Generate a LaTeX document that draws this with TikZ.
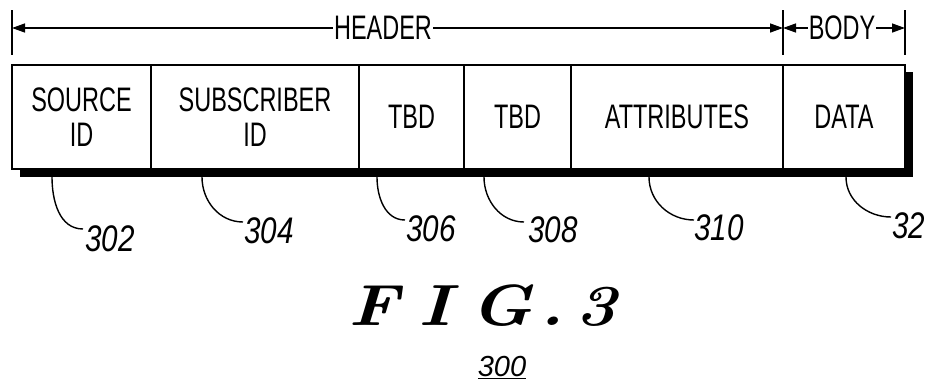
\documentclass[tikz,border=0pt]{standalone}
\usepackage{fontspec}
\usetikzlibrary{arrows.meta}
\newfontfamily\cellfont[FakeStretch=0.69]{Liberation Sans}
\newfontfamily\numfont[FakeStretch=0.8]{Liberation Sans}
\newfontfamily\plainsans{Liberation Sans}
\begin{document}
\begin{tikzpicture}[x=1pt,y=-1pt,
  cell/.style={draw,fill=white,line width=1.8pt,minimum height=104pt,inner sep=0pt,outer sep=0pt,align=center,
    font=\cellfont\fontsize{34}{35}\selectfont},
  lead/.style={line width=1.4pt},
  refnum/.style={font=\numfont\itshape\fontsize{37}{37}\selectfont,inner sep=0pt,anchor=west},
  tickline/.style={line width=1.8pt},
  dimline/.style={line width=1.4pt,-{Triangle[length=13pt,width=9pt]}},
  lab/.style={font=\cellfont\fontsize{34}{35}\selectfont,fill=white,inner sep=1pt}]
\useasboundingbox (0,0) rectangle (928,386);
% shadow
\fill (20,72) rectangle (913,177);
% cells
\node[cell,minimum width=139pt] (c1) at (81.5,117) {SOURCE\\ID};
\node[cell,minimum width=208pt] (c2) at (255,117) {SUBSCRIBER\\ID};
\node[cell,minimum width=105pt] (c3) at (411.5,117) {TBD};
\node[cell,minimum width=107pt] (c4) at (517.5,117) {TBD};
\node[cell,minimum width=212pt] (c5) at (677,117) {ATTRIBUTES};
\node[cell,minimum width=122pt] (c6) at (844,117) {DATA};
% dimension ticks
\coordinate (t1a) at (12,10); \coordinate (t1b) at (12,55);
\coordinate (t2a) at (783,10); \coordinate (t2b) at (783,55);
\coordinate (t3a) at (905,10); \coordinate (t3b) at (905,55);
\draw[tickline] (t1a) -- (t1b);
\draw[tickline] (t2a) -- (t2b);
\draw[tickline] (t3a) -- (t3b);
\coordinate (h1) at (12,28); \coordinate (h2) at (783,28); \coordinate (h3) at (905,28);
\node[lab] (hdr) at (383,28) {HEADER};
\node[lab] (body) at (842,28) {BODY};
\draw[dimline] (hdr.west) -- (h1);
\draw[dimline] (hdr.east) -- (h2);
\draw[dimline] (body.west) -- (h2);
\draw[dimline] (body.east) -- (h3);
% reference leaders
\coordinate (s302) at (52,177);  \coordinate (e302) at (83,229);
\coordinate (s304) at (202,177); \coordinate (e304) at (243,222);
\coordinate (s306) at (377,177); \coordinate (e306) at (405,220);
\coordinate (s308) at (484,177); \coordinate (e308) at (524,222);
\coordinate (s310) at (649,177); \coordinate (e310) at (694,220);
\coordinate (s32)  at (846,177); \coordinate (e32)  at (891,217);
\draw[lead] (s302) to[out=-90,in=180] (e302);
\draw[lead] (s304) to[out=-90,in=180] (e304);
\draw[lead] (s306) to[out=-90,in=180] (e306);
\draw[lead] (s308) to[out=-90,in=180] (e308);
\draw[lead] (s310) to[out=-90,in=180] (e310);
\draw[lead] (s32) to[out=-90,in=180] (e32);
\node[refnum] (n302) at (85,239) {302};
\node[refnum] (n304) at (244,231) {304};
\node[refnum] (n306) at (406,229) {306};
\node[refnum] (n308) at (528,230) {308};
\node[refnum] (n310) at (694,228) {310};
\node[refnum] (n32) at (892,226) {32};
% figure caption
\node (fig) at (483,306) {\scalebox{1.2}[1]{\fontsize{58}{58}\selectfont\bfseries\itshape F\hspace{16pt}I\hspace{16pt}G\hspace{5pt}.\hspace{10pt}3}};
\node (n300) at (502,368) {\plainsans\itshape\fontsize{29}{29}\selectfont\underline{300}};
\end{tikzpicture}
\end{document}
